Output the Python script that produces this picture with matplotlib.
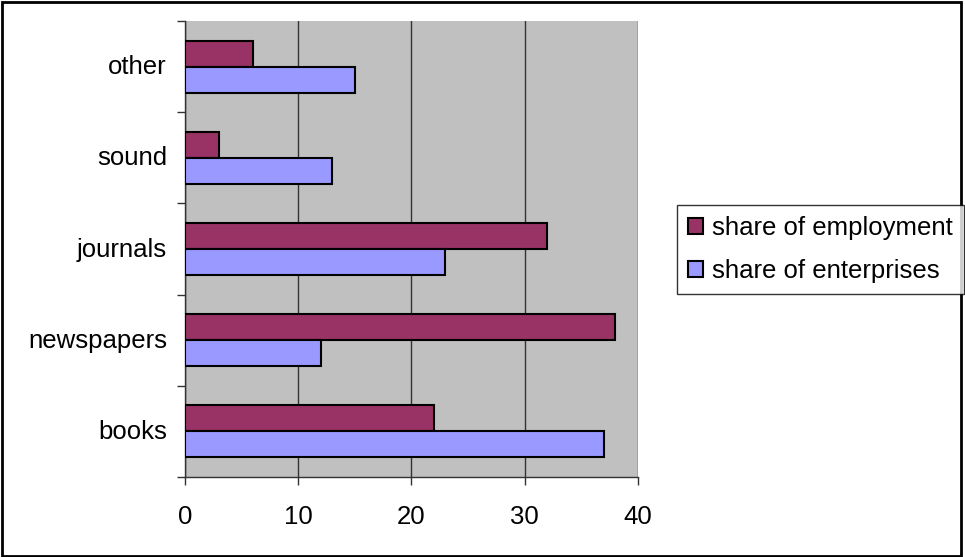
# -*- coding: utf-8 -*-
"""
Horizontal grouped bar chart: share of employment vs share of enterprises
by publishing sector.
"""
import numpy as np
import matplotlib.pyplot as plt
from matplotlib.patches import Rectangle

# data, bottom to top
categories = ['books', 'newspapers', 'journals', 'sound', 'other']
shareEmployment = [22, 38, 32, 3, 6]
shareEnterprises = [37, 12, 23, 13, 15]
xTicks = [0, 10, 20, 30, 40]

plt.rcParams['font.family'] = ['Liberation Sans', 'DejaVu Sans']
fontSize = 18.5

fig = plt.figure(figsize=(9.65, 5.57), dpi=100)
ax = fig.add_axes([0.1917, 0.1436, 0.4694, 0.8187])

# bar geometry
y = np.arange(len(categories))
barHeight = 0.285

ax.barh(y + barHeight / 2, shareEmployment, height=barHeight,
        color='#993366', edgecolor='black', linewidth=1.5,
        label='share of employment', zorder=3)
ax.barh(y - barHeight / 2, shareEnterprises, height=barHeight,
        color='#9999FF', edgecolor='black', linewidth=1.5,
        label='share of enterprises', zorder=3)

# axes styling
ax.set_facecolor('#C0C0C0')
ax.set_xlim(0, 40)
ax.set_ylim(-0.5, len(categories) - 0.5)
ax.set_xticks(xTicks)
ax.set_xticklabels([str(t) for t in xTicks], fontsize=fontSize)
ax.set_yticks(y + 0.02)
ax.set_yticklabels(categories, fontsize=fontSize)
ax.set_yticks(np.arange(len(categories) + 1) - 0.5, minor=True)
ax.tick_params(axis='y', which='major', length=0, pad=13)
ax.tick_params(axis='y', which='minor', length=6, width=1, color='#333333')
ax.tick_params(axis='x', which='major', length=6, width=1, color='#333333', pad=14)
ax.xaxis.grid(True, color='#333333', linewidth=1, zorder=1)
for side in ['top', 'right']:
    ax.spines[side].set_visible(False)
for side in ['left', 'bottom']:
    ax.spines[side].set_color('#333333')
    ax.spines[side].set_linewidth(1)

# legend
leg = fig.legend(loc='upper left', bbox_to_anchor=(0.7016, 0.632),
                 borderaxespad=0, fontsize=fontSize, frameon=True, fancybox=False,
                 edgecolor='black', handlelength=0.6, handleheight=0.6,
                 handletextpad=0.35, borderpad=0.42, labelspacing=0.75)
leg.get_frame().set_linewidth(1)

# outer figure frame
fig.patches.append(Rectangle((0.002, 0.002), 0.994, 0.994, transform=fig.transFigure,
                             fill=False, edgecolor='black', linewidth=2))

plt.savefig('out.png', dpi=100)
